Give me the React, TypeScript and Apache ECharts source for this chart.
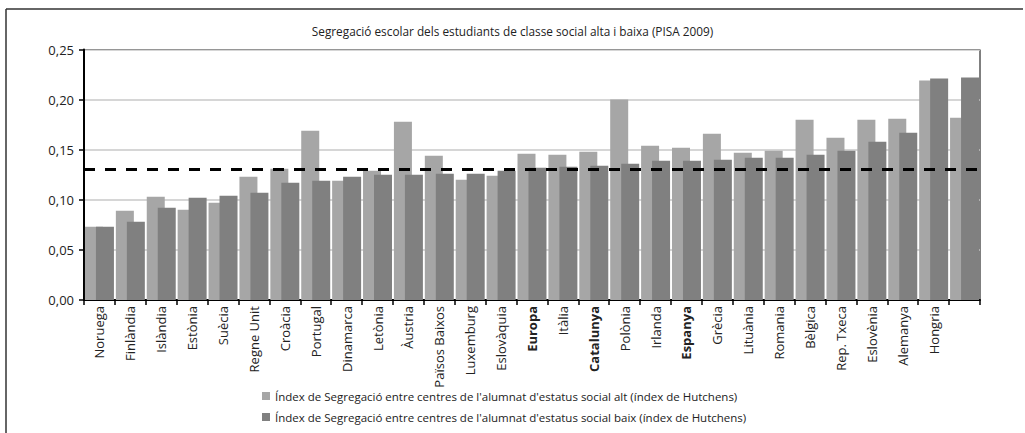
import React, { useEffect, useRef } from "react";
import * as echarts from "echarts";

const categories = [
  "Noruega", "Finlàndia", "Islàndia", "Estònia", "Suècia", "Regne Unit", "Croàcia",
  "Portugal", "Dinamarca", "Letònia", "Àustria", "Països Baixos", "Luxemburg",
  "Eslovàquia", "Europa", "Itàlia", "Catalunya", "Polònia", "Irlanda", "Espanya",
  "Grècia", "Lituània", "Romania", "Bèlgica", "Rep. Txeca", "Eslovènia", "Alemanya",
  "Hongria", "",
];
const boldCategories = ["Europa", "Catalunya", "Espanya"];

const highValues = [
  0.073, 0.089, 0.103, 0.090, 0.097, 0.123, 0.131, 0.169, 0.119, 0.129, 0.178, 0.144,
  0.120, 0.124, 0.146, 0.145, 0.148, 0.200, 0.154, 0.152, 0.166, 0.147, 0.149, 0.180,
  0.162, 0.180, 0.181, 0.219, 0.182,
];
const lowValues = [
  0.073, 0.078, 0.092, 0.102, 0.104, 0.107, 0.117, 0.119, 0.123, 0.125, 0.125, 0.126,
  0.126, 0.129, 0.132, 0.133, 0.134, 0.136, 0.139, 0.139, 0.140, 0.142, 0.142, 0.145,
  0.149, 0.158, 0.167, 0.221, 0.222,
];
const referenceValue = 0.132;

const seriesNames = [
  "Índex de Segregació entre centres de l'alumnat d'estatus social alt (índex de Hutchens)",
  "Índex de Segregació entre centres de l'alumnat d'estatus social baix (índex de Hutchens)",
];
const titleText = "Segregació escolar dels estudiants de classe social alta i baixa (PISA 2009)";

const FONT = "Open Sans";
const FS = 11.5;
const XFS = 13;
const YFS = 13;

export default function App() {
  const ref = useRef<HTMLDivElement>(null);
  useEffect(() => {
    if (!ref.current) return;
    const chart = echarts.init(ref.current, undefined, { renderer: "svg" });
    chart.setOption({
      animation: false,
      backgroundColor: "#fff",
      textStyle: { fontFamily: FONT },
      title: {
        text: titleText,
        left: "center",
        top: 25,
        padding: 0,
        textStyle: { fontFamily: FONT, fontSize: 11.8, fontWeight: "normal", color: "#222" },
      },
      graphic: [
        { type: "line", shape: { x1: 6, y1: 9, x2: 1023, y2: 9 }, style: { stroke: "#333", lineWidth: 1.5 } },
        { type: "line", shape: { x1: 6, y1: 9, x2: 6, y2: 440 }, style: { stroke: "#333", lineWidth: 1.5 } },
      ],
      legend: {
        orient: "vertical",
        left: 262,
        top: 389,
        padding: 0,
        itemWidth: 8,
        itemHeight: 8,
        itemGap: 7,
        icon: "rect",
        textStyle: { fontFamily: FONT, fontSize: FS, color: "#222", lineHeight: 14 },
        data: seriesNames,
      },
      grid: {
        left: 84,
        right: 45,
        top: 49.5,
        bottom: 133,
        show: true,
        borderColor: "#000",
        borderWidth: 1,
        backgroundColor: "transparent",
      },
      xAxis: {
        type: "category",
        data: categories,
        axisLine: { lineStyle: { color: "#000", width: 2 } },
        axisTick: { show: true, length: 5, interval: 0, lineStyle: { color: "#000", width: 1.5 } },
        axisLabel: {
          interval: 0,
          rotate: 90,
          margin: 6,
          fontFamily: FONT,
          fontSize: XFS,
          color: "#222",
          formatter: (v: string) => (boldCategories.includes(v) ? `{b|${v}}` : v),
          rich: { b: { fontWeight: "bold", fontFamily: FONT, fontSize: XFS, color: "#222" } },
        },
      },
      yAxis: {
        type: "value",
        min: 0,
        max: 0.25,
        interval: 0.05,
        axisLine: { show: true, lineStyle: { color: "#000", width: 2 } },
        axisTick: { show: true, length: 5, lineStyle: { color: "#000", width: 1.5 } },
        splitLine: { show: true, lineStyle: { color: "#c8c8c8", width: 1.5 } },
        axisLabel: {
          margin: 10,
          fontFamily: FONT,
          fontSize: YFS,
          color: "#222",
          formatter: (v: number) => v.toFixed(2).replace(".", ","),
        },
      },
      series: [
        {
          name: seriesNames[0],
          type: "bar",
          data: highValues,
          barWidth: 18,
          barGap: "-39%",
          itemStyle: { color: "#a6a6a6" },
        },
        {
          name: seriesNames[1],
          type: "bar",
          data: lowValues,
          barWidth: 18,
          itemStyle: { color: "#808080" },
          markLine: {
            silent: true,
            symbol: ["none", "none"],
            label: { show: false },
            lineStyle: { color: "#000", width: 3, type: [11, 10] },
            data: [{ yAxis: referenceValue }],
          },
        },
      ],
    });
    return () => chart.dispose();
  }, []);
  return (
    <div
      ref={ref}
      style={{ position: "fixed", left: 0, top: 0, width: 1025, height: 433 }}
    />
  );
}
